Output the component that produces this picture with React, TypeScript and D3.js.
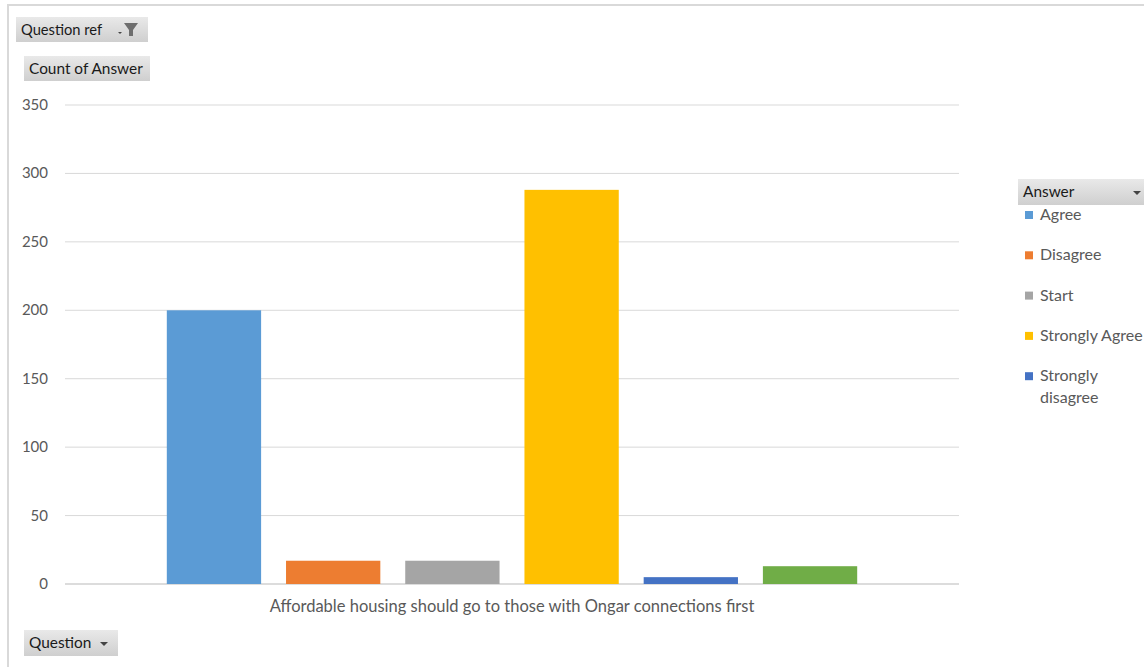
import React from "react";
import * as d3 from "d3";

const categories = ["Affordable housing should go to those with Ongar connections first"];
const seriesNames = ["Agree", "Disagree", "Start", "Strongly Agree", "Strongly disagree", "Tend to agree"];
const seriesValues = [200, 17, 17, 288, 5, 13];
const seriesColors = ["#5b9bd5", "#ed7d31", "#a5a5a5", "#ffc000", "#4472c4", "#70ad47"];
const yTicks = [0, 50, 100, 150, 200, 250, 300, 350];
const legendLabels = [["Agree"], ["Disagree"], ["Start"], ["Strongly Agree"], ["Strongly", "disagree"]];

const W = 1144, H = 667;
const plot = { left: 65, right: 959, top: 105, bottom: 584 };
const FONT = "Lato, 'Open Sans', sans-serif";

function Button({ x, y, w, h, label, icon, fs }: { x: number; y: number; w: number; h: number; label: string; icon: "filter" | "arrow" | "none"; fs: number }) {
  return (
    <g>
      <rect x={x} y={y} width={w} height={h} fill="url(#btnGrad)" />
      <text x={x + 5} y={y + h / 2 + 5} fontSize={fs} fill="#1a1a1a" fontFamily={FONT}>{label}</text>
      {icon === "filter" && (
        <g>
          <path d={`M${x + w - 24},${y + 6} h14 l-5,7 v6 h-4 v-6 z`} fill="#6e6e6e" />
          <path d={`M${x + w - 30},${y + 15} h4 l-2,2 z`} fill="#444" />
        </g>
      )}
      {icon === "arrow" && <path d={`M${x + w - 18},${y + h / 2 - 1} h8 l-4,4 z`} fill="#444" />}
    </g>
  );
}

export default function App() {
  const y = d3.scaleLinear().domain([0, 350]).range([plot.bottom, plot.top]);
  const x0 = d3.scaleBand().domain(categories).range([plot.left, plot.right]).padding(0);
  const x1 = d3.scaleBand().domain(seriesNames).range([0, x0.bandwidth()]).paddingInner(0.209).paddingOuter(0.854);
  const color = d3.scaleOrdinal<string, string>().domain(seriesNames).range(seriesColors);

  return (
    <svg width={W} height={H} style={{ position: "absolute", left: 0, top: 0, background: "#fff" }}>
      <defs>
        <linearGradient id="btnGrad" x1="0" y1="0" x2="0" y2="1">
          <stop offset="0" stopColor="#e9e9e9" />
          <stop offset="1" stopColor="#cfcfcf" />
        </linearGradient>
      </defs>
      {/* frame */}
      <path d={`M8,${H} V5 H${W}`} fill="none" stroke="#d9d9d9" strokeWidth={2} />

      {/* gridlines and ticks */}
      {yTicks.map((t) => (
        <g key={t}>
          <line x1={plot.left} x2={plot.right} y1={y(t)} y2={y(t)} stroke={t === 0 ? "#d0d0d0" : "#d9d9d9"} strokeWidth={t === 0 ? 1.5 : 1} />
          <text x={48} y={y(t) + 5} textAnchor="end" fontSize={15} fill="#595959" fontFamily={FONT}>{t}</text>
        </g>
      ))}

      {/* bars */}
      {categories.map((c) => (
        <g key={c} transform={`translate(${x0(c)},0)`}>
          {seriesNames.map((s, i) => (
            <rect key={s} x={x1(s)} y={y(seriesValues[i])} width={x1.bandwidth()} height={y(0) - y(seriesValues[i])} fill={color(s)} />
          ))}
          <text x={x0.bandwidth() / 2} y={612} textAnchor="middle" fontSize={16.5} fill="#595959" fontFamily={FONT}>{c}</text>
        </g>
      ))}

      {/* field buttons */}
      <Button x={16} y={17} w={132} h={25} label="Question ref" icon="filter" fs={14.7} />
      <Button x={24} y={56} w={126} h={25} label="Count of Answer" icon="none" fs={15.4} />
      <Button x={24} y={630} w={94} h={26} label="Question" icon="arrow" fs={15.4} />
      <Button x={1018} y={179} w={130} h={26} label="Answer" icon="none" fs={15.4} />
      <path d={`M1133,191 h8 l-4,4 z`} fill="#444" />

      {/* legend */}
      {legendLabels.map((lines, i) => {
        const cy = 215 + i * 40.3;
        return (
          <g key={i}>
            <rect x={1025} y={cy - 4} width={8} height={8} fill={seriesColors[i]} />
            {lines.map((l, j) => (
              <text key={j} x={1040} y={cy + 5 + j * 22} fontSize={16} fill="#595959" fontFamily={FONT}>{l}</text>
            ))}
          </g>
        );
      })}
    </svg>
  );
}
